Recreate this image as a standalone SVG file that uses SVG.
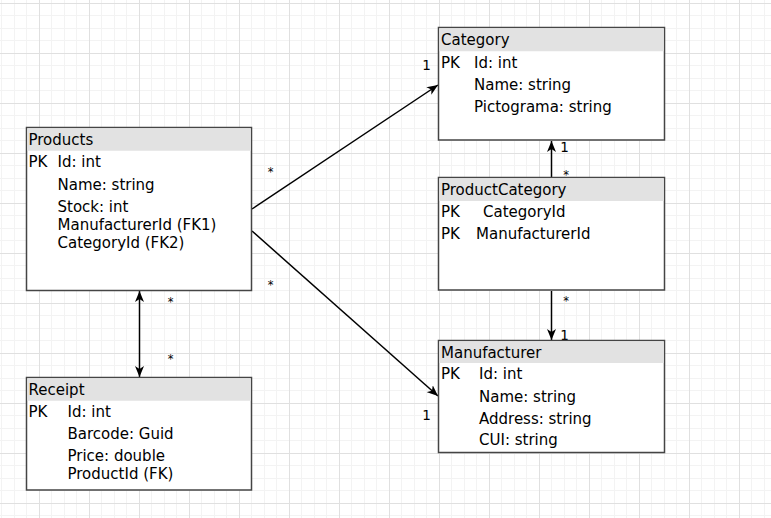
<svg xmlns="http://www.w3.org/2000/svg" width="771" height="518" viewBox="0 0 771 518">
  <defs>
    <pattern id="grid" patternUnits="userSpaceOnUse" x="39" y="3" width="50" height="50">
      <rect x="0" y="0" width="50" height="50" fill="#ffffff"/>
      <rect x="12" y="0" width="1" height="50" fill="#f3f3f3"/>
      <rect x="25" y="0" width="1" height="50" fill="#f3f3f3"/>
      <rect x="37" y="0" width="1" height="50" fill="#f3f3f3"/>
      <rect x="0" y="12" width="50" height="1" fill="#f3f3f3"/>
      <rect x="0" y="25" width="50" height="1" fill="#f3f3f3"/>
      <rect x="0" y="37" width="50" height="1" fill="#f3f3f3"/>
      <rect x="0" y="0" width="1" height="50" fill="#e0e0e0"/>
      <rect x="0" y="0" width="50" height="1" fill="#e0e0e0"/>
    </pattern>
    <marker id="arrow" viewBox="0 0 12 10" refX="11" refY="5" markerWidth="12" markerHeight="10" markerUnits="userSpaceOnUse" orient="auto-start-reverse">
      <path d="M0,0.5 L11,5 L0,9.5 L3,5 Z" fill="#000"/>
    </marker>
  </defs>
  <style>
    .box { fill: #ffffff; stroke: #454545; stroke-width: 1.5; }
    .hdr { fill: #e2e2e2; }
    text { font-family: "DejaVu Sans", Verdana, sans-serif; fill: #000; }
    .t { font-size: 15px; }
    .lbl { font-size: 13.5px; text-anchor: middle; }
    .star { font-size: 11.5px; text-anchor: middle; }
    .edge { fill: none; stroke: #000; stroke-width: 1.5; }
  </style>
  <rect x="0" y="0" width="771" height="518" fill="url(#grid)"/>

  <g id="connectors">
    <line class="edge" x1="252" y1="209" x2="438" y2="85" marker-end="url(#arrow)"/>
    <line class="edge" x1="252" y1="231" x2="438" y2="396" marker-end="url(#arrow)"/>
    <line class="edge" x1="551.5" y1="177" x2="551.5" y2="141" marker-end="url(#arrow)"/>
    <line class="edge" x1="551.5" y1="291" x2="551.5" y2="340" marker-end="url(#arrow)"/>
    <line class="edge" x1="139.5" y1="291" x2="139.5" y2="377" marker-start="url(#arrow)" marker-end="url(#arrow)"/>
    <text class="star" x="270.5" y="176">*</text>
    <text class="lbl" x="426.5" y="69.5">1</text>
    <text class="star" x="270.5" y="288.5">*</text>
    <text class="lbl" x="426.5" y="419.5">1</text>
    <text class="lbl" x="564.5" y="152">1</text>
    <text class="star" x="566" y="178.5">*</text>
    <text class="star" x="566" y="305">*</text>
    <text class="lbl" x="564.5" y="339.5">1</text>
    <text class="star" x="170.5" y="305.5">*</text>
    <text class="star" x="170.5" y="363">*</text>
  </g>

  <g id="category">
    <rect class="box" x="438.5" y="27.5" width="226" height="112.5"/>
    <rect class="hdr" x="439.25" y="28.25" width="224.5" height="23"/>
    <text class="t" x="441" y="45">Category</text>
    <text class="t" x="441" y="67.7">PK</text>
    <text class="t" x="474" y="67.7">Id: int</text>
    <text class="t" x="474" y="90">Name: string</text>
    <text class="t" x="474" y="111.7">Pictograma: string</text>
  </g>

  <g id="products">
    <rect class="box" x="26.5" y="127.5" width="225" height="163"/>
    <rect class="hdr" x="27.25" y="128.25" width="223.5" height="22.5"/>
    <text class="t" x="28.5" y="145">Products</text>
    <text class="t" x="28.5" y="167.3">PK</text>
    <text class="t" x="57.5" y="167.3">Id: int</text>
    <text class="t" x="57.5" y="190">Name: string</text>
    <text class="t" x="57.5" y="211.7">Stock: int</text>
    <text class="t" x="57.5" y="230">ManufacturerId (FK1)</text>
    <text class="t" x="57.5" y="247.7">CategoryId (FK2)</text>
  </g>

  <g id="productcategory">
    <rect class="box" x="438.5" y="177.5" width="226" height="112.5"/>
    <rect class="hdr" x="439.25" y="178.25" width="224.5" height="22.75"/>
    <text class="t" x="441" y="195">ProductCategory</text>
    <text class="t" x="441" y="217.3">PK</text>
    <text class="t" x="483" y="217.3">CategoryId</text>
    <text class="t" x="441" y="239">PK</text>
    <text class="t" x="476" y="239">ManufacturerId</text>
  </g>

  <g id="manufacturer">
    <rect class="box" x="438.5" y="340.5" width="226" height="112"/>
    <rect class="hdr" x="439.25" y="341.25" width="224.5" height="21.75"/>
    <text class="t" x="441" y="357.5">Manufacturer</text>
    <text class="t" x="441" y="379.3">PK</text>
    <text class="t" x="479" y="379.3">Id: int</text>
    <text class="t" x="479" y="401.7">Name: string</text>
    <text class="t" x="479" y="424">Address: string</text>
    <text class="t" x="479" y="445">CUI: string</text>
  </g>

  <g id="receipt">
    <rect class="box" x="26.5" y="377.5" width="225" height="112.5"/>
    <rect class="hdr" x="27.25" y="378.25" width="223.5" height="22.5"/>
    <text class="t" x="28.5" y="395">Receipt</text>
    <text class="t" x="28.5" y="417.3">PK</text>
    <text class="t" x="67.5" y="417.3">Id: int</text>
    <text class="t" x="67.5" y="439">Barcode: Guid</text>
    <text class="t" x="67.5" y="461">Price: double</text>
    <text class="t" x="67.5" y="479.3">ProductId (FK)</text>
  </g>
</svg>
